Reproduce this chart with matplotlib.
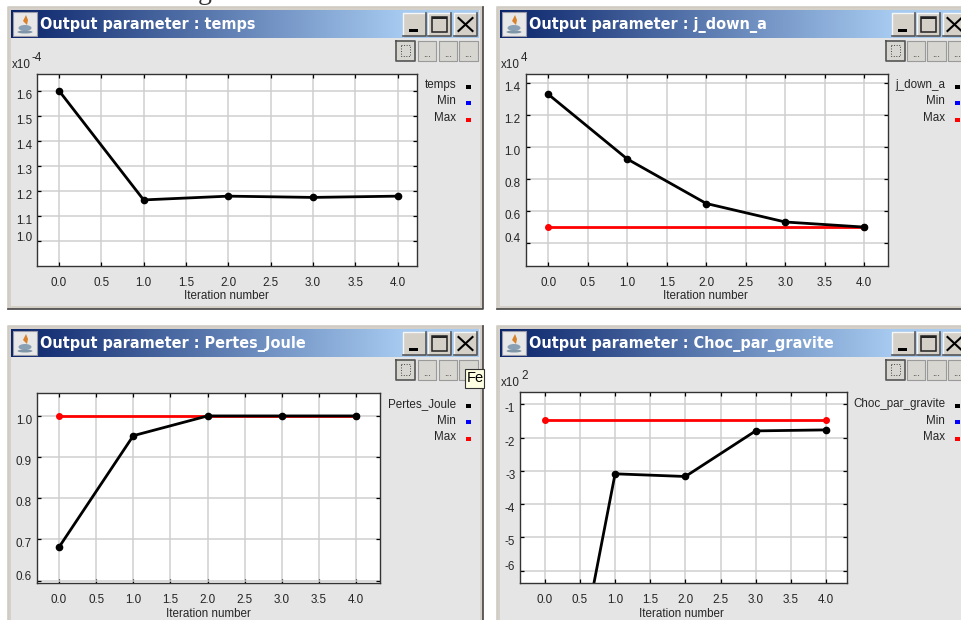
import numpy as np
import matplotlib
matplotlib.use('Agg')
import matplotlib.pyplot as plt
from matplotlib.patches import Rectangle, Polygon, Ellipse
from matplotlib.transforms import ScaledTranslation

plt.rcParams['font.family'] = ['Liberation Sans', 'DejaVu Sans']

# data
iterations = [0, 1, 2, 3, 4]
x_ticks = [0.0, 0.5, 1.0, 1.5, 2.0, 2.5, 3.0, 3.5, 4.0]

temps = [1.60, 1.165, 1.18, 1.175, 1.18]
temps_ticks = [1.0, 1.1, 1.2, 1.3, 1.4, 1.5, 1.6]

j_down_a = [1.331, 0.925, 0.646, 0.53, 0.498]
j_down_a_max = [0.498, 0.498, 0.498, 0.498, 0.498]
j_down_a_ticks = [0.4, 0.6, 0.8, 1.0, 1.2, 1.4]

pertes_joule = [0.681, 0.952, 1.0, 1.0, 1.0]
pertes_joule_max = [1.0, 1.0, 1.0, 1.0, 1.0]
pertes_joule_ticks = [0.6, 0.7, 0.8, 0.9, 1.0]

choc = [-14.0, -3.09, -3.17, -1.80, -1.77]
choc_max = [-1.48, -1.48, -1.48, -1.48, -1.48]
choc_ticks = [-6, -5, -4, -3, -2, -1]

W, H = 961, 620
TXT = '#262626'
fig = plt.figure(figsize=(W / 100, H / 100), dpi=100, facecolor='white')
bg = fig.add_axes([0, 0, 1, 1])
bg.set_xlim(0, W)
bg.set_ylim(H, 0)
bg.axis('off')

grad = np.array([[10, 36, 106], [166, 202, 240]]) / 255.0
grad = np.linspace(grad[0], grad[1], 256)[None, :, :]


def rect(x0, y0, x1, y1, **kw):
    kw.setdefault('linewidth', 0)
    bg.add_patch(Rectangle((x0, y0), x1 - x0, y1 - y0, **kw))


def window(x0, y0, x1, y1, name, btn_x, tool_x, icon_y):
    rect(x0, y0, x1, y1, facecolor='#d4d0c8')
    rect(x0 + 3, y0 + 3, x1 - 3, y1 - 3, facecolor='#e5e5e5')
    bg.plot([x0, x0, x1], [y1, y0, y0], color='#cfcbc3', lw=1.2)
    bg.plot([x0, x1, x1], [y1, y1, y0], color='#444444', lw=1.2)

    # title bar
    rect(x0 + 3, y0 + 3, x1 - 4, y0 + 31, facecolor='#a6caf0', zorder=1)
    bg.imshow(grad, extent=[x0 + 3, x0 + 395, y0 + 31, y0 + 3], aspect='auto', zorder=1)
    bg.set_xlim(0, W)
    bg.set_ylim(H, 0)
    bg.text(x0 + 32, y0 + 18, 'Output parameter : ' + name, color='white',
            family='DejaVu Sans', fontweight='bold', fontsize=10.45, va='center', zorder=3)

    # java icon
    ix, iy = x0 + 5, icon_y
    rect(ix, iy, ix + 24, iy + 24, facecolor='#e8e8e8', edgecolor='#9a9aa8', linewidth=0.8, zorder=3)
    bg.add_patch(Polygon([(ix + 13, iy + 3), (ix + 10, iy + 9), (ix + 14, iy + 13), (ix + 15, iy + 8)],
                         facecolor='#d9822b', zorder=4))
    bg.add_patch(Ellipse((ix + 12, iy + 16), 13, 6, facecolor='#8aa0b4', zorder=4))
    bg.add_patch(Ellipse((ix + 12, iy + 20), 15, 3, facecolor='#7f95a8', zorder=4))

    # minimise, maximise, close
    by0, by1 = y0 + 6, y0 + 29
    for i, (a, b) in enumerate(btn_x):
        rect(a, by0, b, by1, facecolor='#d4d0c8', zorder=2)
        bg.plot([a, a, b], [by1, by0, by0], color='#f6f6f6', lw=1, zorder=3)
        bg.plot([a, b, b], [by1, by1, by0], color='#555555', lw=1.2, zorder=3)
        cx = (a + b) / 2
        if i == 0:
            rect(a + 6, by1 - 7, a + 15, by1 - 4, facecolor='black', zorder=4)
        elif i == 1:
            rect(cx - 8, by0 + 4, cx + 7, by1 - 4, facecolor='none', edgecolor='#222222',
                 linewidth=1.1, zorder=4)
            rect(cx - 8, by0 + 4, cx + 7, by0 + 6, facecolor='#222222', zorder=4)
        else:
            bg.plot([cx - 7, cx + 7], [by0 + 5, by1 - 5], color='black', lw=1.5, zorder=4)
            bg.plot([cx - 7, cx + 7], [by1 - 5, by0 + 5], color='black', lw=1.5, zorder=4)

    # toolbar
    ty0, ty1 = y0 + 34, y0 + 54
    for i, (a, b) in enumerate(tool_x):
        rect(a, ty0, b, ty1, facecolor='#d8d6d0', zorder=2)
        bg.plot([a, b, b, a, a], [ty0, ty0, ty1, ty1, ty0],
                color='#555555' if i == 0 else '#9a9a9a', lw=1.2 if i == 0 else 0.8, zorder=3)
        if i == 0:
            rect(a + 5, ty0 + 4, b - 5, ty1 - 5, facecolor='none', edgecolor='#444444',
                 linewidth=0.7, linestyle=':', zorder=4)
        elif not (name == 'Pertes_Joule' and i == 3):  # that one sits under the tooltip
            bg.text((a + b) / 2, ty1 - 7, '...', ha='center', va='center', fontsize=7,
                    color='#333333', zorder=4)


windows = [
    (8, 7, 483, 309, 'temps', [(403, 426), (428, 451), (454, 477)],
     [(396, 415), (418, 436), (439, 457), (459, 478)], 12),
    (497, 7, 975, 309, 'j_down_a', [(892, 915), (917, 940), (943, 966)],
     [(886, 905), (907, 925), (927, 946), (948, 966)], 12),
    (8, 326, 483, 640, 'Pertes_Joule', [(403, 426), (428, 451), (454, 477)],
     [(396, 415), (418, 436), (439, 457), (459, 478)], 331),
    (497, 326, 975, 640, 'Choc_par_gravite', [(892, 915), (917, 940), (943, 966)],
     [(886, 905), (907, 925), (927, 946), (948, 966)], 331),
]
for w in windows:
    window(*w)

# tooltip over the third window
rect(465, 369, 484, 388, facecolor='#ffffe1', edgecolor='#333333', linewidth=0.8, zorder=5)
bg.text(466.5, 378, 'Fe', fontsize=10.5, va='center', color='black', zorder=6)

# bit of the document text above the screenshot
bg.text(205, -1, 'g', family='Liberation Serif', fontsize=20, ha='center', va='baseline',
        color='#333333', clip_on=True)

panels = [
    dict(box=(37, 74, 417, 265.7), xlim=(-0.26, 4.23), ylim=(0.903, 1.6665), y=temps, ymax=None,
         ticks=temps_ticks, fmt='%.1f', exp='-4', exp_pos=(12, 65), xlabel=(226, 296),
         leg=('temps', 456, 468, 85)),
    dict(box=(525.7, 74, 888, 265.7), xlim=(-0.285, 4.30), ylim=(0.256, 1.458), y=j_down_a, ymax=j_down_a_max,
         ticks=j_down_a_ticks, fmt='%.1f', exp='4', exp_pos=(501, 65), xlabel=(705, 296),
         leg=('j_down_a', 945, 957, 85)),
    dict(box=(37, 393.3, 380, 583), xlim=(-0.296, 4.32), ylim=(0.594, 1.055), y=pertes_joule, ymax=pertes_joule_max,
         ticks=pertes_joule_ticks, fmt='%.1f', exp=None, exp_pos=None, xlabel=(208, 614),
         leg=('Pertes_Joule', 456, 468, 404)),
    dict(box=(520.3, 392.3, 847, 583.3), xlim=(-0.349, 4.30), ylim=(-6.38, -0.64), y=choc, ymax=choc_max,
         ticks=choc_ticks, fmt='%d', exp='2', exp_pos=(501, 383), xlabel=(681, 614),
         leg=('Choc_par_gravite', 945, 957, 404)),
]

for p in panels:
    x0, y0, x1, y1 = p['box']
    ax = fig.add_axes([x0 / W, 1 - y1 / H, (x1 - x0) / W, (y1 - y0) / H])
    ax.set_xlim(*p['xlim'])
    ax.set_ylim(*p['ylim'])
    ax.set_xticks(x_ticks)
    ax.set_yticks(p['ticks'])
    ax.set_xticklabels(['%.1f' % t for t in x_ticks])
    ax.set_yticklabels([p['fmt'] % t for t in p['ticks']])
    ax.grid(color='#cfcfcf', linewidth=1.1)
    ax.set_axisbelow(True)
    ax.tick_params(direction='in', length=3, width=0.9, top=True, right=True,
                   labelsize=8.4, labelcolor=TXT)
    ax.tick_params(axis='x', pad=8)
    ax.tick_params(axis='y', pad=3.6)
    for sp in ax.spines.values():
        sp.set_linewidth(1.0)
        sp.set_color('#333333')

    # the y labels don't sit on their ticks in the screenshot, lowest one is pushed up
    labs = ax.get_yticklabels()
    for i, lab in enumerate(labs):
        dy = 5 if i == 0 else -3.5
        lab.set_transform(lab.get_transform() + ScaledTranslation(0, dy / 100, fig.dpi_scale_trans))

    if p['ymax'] is not None:
        ax.plot(iterations, p['ymax'], color='#ff0000', lw=2, marker='o', ms=4, markevery=[0, 4])
    ax.plot(iterations, p['y'], color='black', lw=2, marker='o', ms=4.5)

    bg.text(p['xlabel'][0], p['xlabel'][1], 'Iteration number', fontsize=8.4, ha='center', va='center',
            color=TXT, zorder=3)
    if p['exp'] is not None:
        ex, ey = p['exp_pos']
        bg.text(ex, ey, 'x10', fontsize=8.4, va='center', color=TXT, zorder=3)
        bg.text(ex + 20, ey - 7, p['exp'], fontsize=8.4, va='center', color=TXT, zorder=3)

    name, tx, mx, ly = p['leg']
    for i, (lab, col) in enumerate([(name, 'black'), ('Min', '#0000ff'), ('Max', '#ff0000')]):
        yy = ly + 16.5 * i
        bg.text(tx, yy, lab, fontsize=8.4, ha='right', va='center', color=TXT, zorder=3)
        rect(mx - 2.5, yy - 0.5, mx + 2.5, yy + 3.5, facecolor=col, zorder=3)

fig.savefig('out.png', dpi=100)
